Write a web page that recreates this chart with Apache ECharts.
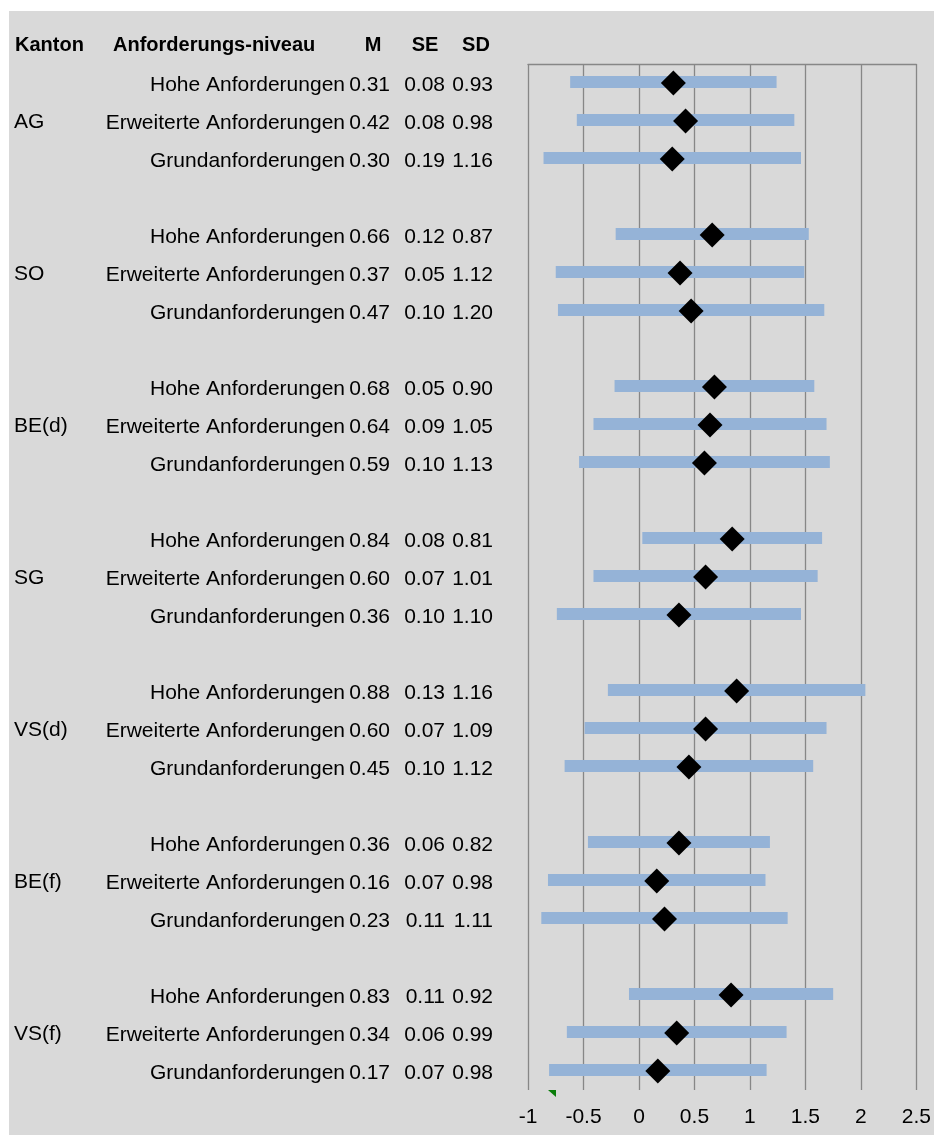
<!DOCTYPE html>
<html>
<head>
<meta charset="utf-8">
<script src="https://cdn.jsdelivr.net/npm/echarts@6/dist/echarts.min.js"></script>
<style>html,body{margin:0;padding:0;background:#fff}#c{width:934px;height:1135px}</style>
</head>
<body>
<div id="c"></div>
<script>
// ---- data ----
var kantone = ['AG', 'SO', 'BE(d)', 'SG', 'VS(d)', 'BE(f)', 'VS(f)'];
var niveaus = ['Hohe Anforderungen', 'Erweiterte Anforderungen', 'Grundanforderungen'];
// per Kanton: [Hohe, Erweiterte, Grund]
var M  = [[0.31, 0.42, 0.30], [0.66, 0.37, 0.47], [0.68, 0.64, 0.59], [0.84, 0.60, 0.36], [0.88, 0.60, 0.45], [0.36, 0.16, 0.23], [0.83, 0.34, 0.17]];
var SE = [[0.08, 0.08, 0.19], [0.12, 0.05, 0.10], [0.05, 0.09, 0.10], [0.08, 0.07, 0.10], [0.13, 0.07, 0.10], [0.06, 0.07, 0.11], [0.11, 0.06, 0.07]];
var SD = [[0.93, 0.98, 1.16], [0.87, 1.12, 1.20], [0.90, 1.05, 1.13], [0.81, 1.01, 1.10], [1.16, 1.09, 1.12], [0.82, 0.98, 1.11], [0.92, 0.99, 0.98]];
var headers = ['Kanton', 'Anforderungs-niveau', 'M', 'SE', 'SD'];
var xTicks = {min: -1, max: 2.5, interval: 0.5};

// ---- build rows (one blank row between Kantone) ----
var rowKanton = [], rowLevel = [], rowM = [], rowSE = [], rowSD = [], rowIds = [];
var barData = [], pointData = [];
kantone.forEach(function (k, g) {
  niveaus.forEach(function (n, l) {
    var r = rowIds.length;
    rowIds.push(String(r));
    rowKanton.push(l === 1 ? k : '');
    rowLevel.push(n);
    rowM.push(M[g][l].toFixed(2));
    rowSE.push(SE[g][l].toFixed(2));
    rowSD.push(SD[g][l].toFixed(2));
    barData.push([r, M[g][l] - SD[g][l], M[g][l] + SD[g][l]]);
    pointData.push([M[g][l], r]);
  });
  if (g < kantone.length - 1) {
    rowIds.push(String(rowIds.length));
    rowKanton.push(''); rowLevel.push(''); rowM.push(''); rowSE.push(''); rowSD.push('');
  }
});

var FONT = 'Liberation Sans, Arial, sans-serif';
var FS = 21;
var gridLeft = 528;

function labelAxis(arr, margin, align, shift) {
  return {
    type: 'category', data: rowIds, inverse: true, position: 'left',
    axisLine: {show: false}, axisTick: {show: false}, splitLine: {show: false},
    axisLabel: {
      show: true, interval: 0, margin: margin, align: align || 'right',
      verticalAlign: 'top', lineHeight: 24,
      padding: [shift - 12, 0, 0, 0],
      fontFamily: FONT, fontSize: FS, color: '#000',
      formatter: function (v, i) { return arr[i]; }
    }
  };
}

var chart = echarts.init(document.getElementById('c'), null, {renderer: 'canvas'});
chart.setOption({
  backgroundColor: '#d9d9d9',
  animation: false,
  grid: {left: gridLeft, right: 16, top: 64, bottom: 45},
  xAxis: [{
    type: 'value', min: xTicks.min, max: xTicks.max, interval: xTicks.interval,
    axisLine: {show: false}, axisTick: {show: false},
    splitLine: {show: true, lineStyle: {color: '#878787', width: 1.3}},
    axisLabel: {fontFamily: FONT, fontSize: FS, color: '#000', margin: 17}
  }, {
    type: 'value', position: 'top', min: xTicks.min, max: xTicks.max, interval: xTicks.interval,
    axisLine: {show: true, lineStyle: {color: '#878787', width: 1.3}},
    axisTick: {show: false}, axisLabel: {show: false}, splitLine: {show: false}
  }],
  yAxis: [
    labelAxis(rowLevel, gridLeft - 345, 'right', 2),
    labelAxis(rowM, gridLeft - 390, 'right', 2),
    labelAxis(rowSE, gridLeft - 445, 'right', 2),
    labelAxis(rowSD, gridLeft - 493, 'right', 2),
    labelAxis(rowKanton, gridLeft - 14, 'left', 1.5)
  ],
  series: [{
    type: 'custom', xAxisIndex: 0, yAxisIndex: 0,
    data: barData,
    encode: {x: [1, 2], y: 0},
    renderItem: function (params, api) {
      var row = api.value(0);
      var s = api.coord([api.value(1), row]);
      var e = api.coord([api.value(2), row]);
      var h = 12;
      return {type: 'rect', shape: {x: s[0], y: s[1] - h / 2 - 1, width: e[0] - s[0], height: h},
              style: {fill: '#95b3d7'}};
    },
    z: 2
  }, {
    type: 'scatter', xAxisIndex: 0, yAxisIndex: 0,
    data: pointData, symbol: 'diamond', symbolSize: 25,
    itemStyle: {color: '#000', opacity: 1}, z: 3
  }],
  graphic: [
    {type: 'rect', shape: {x: 0, y: 0, width: 9, height: 1135}, style: {fill: '#fff'}},
    {type: 'rect', shape: {x: 0, y: 0, width: 934, height: 11}, style: {fill: '#fff'}},
    {type: 'polygon', shape: {points: [[548, 1090], [556, 1090], [556, 1097]]}, style: {fill: '#0a7d0a'}},
    {type: 'text', x: 15, y: 45, style: {text: headers[0], font: 'bold 20px ' + FONT, fill: '#000', textAlign: 'left', textVerticalAlign: 'middle'}},
    {type: 'text', x: 113, y: 45, style: {text: headers[1], font: 'bold 20px ' + FONT, fill: '#000', textAlign: 'left', textVerticalAlign: 'middle'}},
    {type: 'text', x: 373, y: 45, style: {text: headers[2], font: 'bold 20px ' + FONT, fill: '#000', textAlign: 'center', textVerticalAlign: 'middle'}},
    {type: 'text', x: 425, y: 45, style: {text: headers[3], font: 'bold 20px ' + FONT, fill: '#000', textAlign: 'center', textVerticalAlign: 'middle'}},
    {type: 'text', x: 476, y: 45, style: {text: headers[4], font: 'bold 20px ' + FONT, fill: '#000', textAlign: 'center', textVerticalAlign: 'middle'}}
  ]
});
</script>
</body>
</html>
